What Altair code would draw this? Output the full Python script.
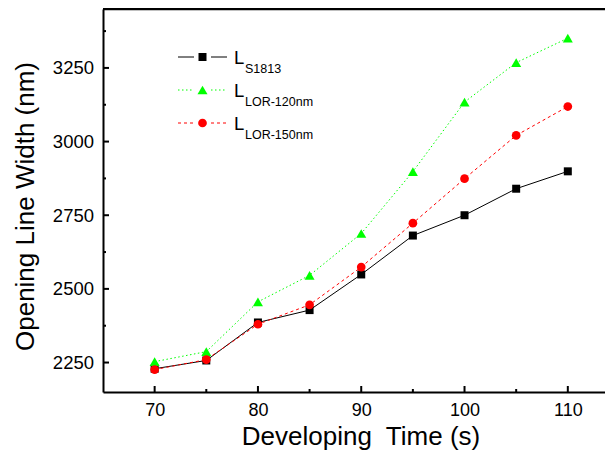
import altair as alt
import pandas as pd

# ---- data ----
times = [70, 75, 80, 85, 90, 95, 100, 105, 110]
s1813 = [2229, 2257, 2386, 2428, 2549, 2681, 2750, 2840, 2899]
lor120 = [2253, 2287, 2456, 2546, 2688, 2898, 3134, 3268, 3351]
lor150 = [2226, 2260, 2380, 2446, 2574, 2723, 2874, 3021, 3119]

series_names = ["S1813", "LOR-120nm", "LOR-150nm"]
series_values = [s1813, lor120, lor150]
colors = ["#000000", "#00ff00", "#ff0000"]
shapes = ["square", "triangle-up", "circle"]
sizes = [64, 100, 76]
dashes = [None, [1.5, 2.5], [3, 3]]

x_major = [70, 80, 90, 100, 110]
x_minor = [75, 85, 95, 105]
y_major = [2250, 2500, 2750, 3000, 3250]
y_minor = [2375, 2625, 2875, 3125, 3375]

W, H = 502, 383
FONT = "Liberation Sans"

xs = alt.Scale(domain=[65, 113.6], nice=False, zero=False)
ys = alt.Scale(domain=[2150, 3450], nice=False, zero=False)

x_axis = alt.Axis(values=x_major, title="Developing\u00a0 Time (s)", format="d",
                  labelFontSize=18, labelFont=FONT, labelColor="black",
                  labelPadding=9, ticks=False, tickSize=0,
                  domain=True, domainColor="black", domainWidth=2, grid=False,
                  labelFlush=False, labelOverlap=False,
                  titleFontSize=26, titleFont=FONT, titleFontWeight="normal",
                  titleColor="black", titleX=257.5, titleY=52,
                  titleBaseline="alphabetic", titleAlign="center")
y_axis = alt.Axis(values=y_major, title="Opening Line Width (nm)", format="d",
                  labelFontSize=18.5, labelFont=FONT, labelColor="black",
                  labelPadding=9.5, ticks=False, tickSize=0,
                  domain=True, domainColor="black", domainWidth=2, grid=False,
                  labelFlush=False, labelOverlap=False,
                  titleFontSize=26, titleFont=FONT, titleFontWeight="normal",
                  titleColor="black", titleX=-70, titleY=197,
                  titleBaseline="alphabetic", titleAlign="center")

layers = []
for i, (name, vals) in enumerate(zip(series_names, series_values)):
    df = pd.DataFrame({"t": times, "v": vals})
    line_kw = dict(color=colors[i], strokeWidth=1)
    if dashes[i]:
        line_kw["strokeDash"] = dashes[i]
    line = alt.Chart(df).mark_line(**line_kw).encode(
        x=alt.X("t:Q", scale=xs, axis=x_axis),
        y=alt.Y("v:Q", scale=ys, axis=y_axis),
    )
    pts = alt.Chart(df).mark_point(shape=shapes[i], filled=True, size=sizes[i],
                                   color=colors[i], opacity=1).encode(
        x=alt.X("t:Q", scale=xs, axis=x_axis),
        y=alt.Y("v:Q", scale=ys, axis=y_axis),
    )
    layers += [line, pts]

# inward ticks
def yticks(vals, length):
    return alt.Chart(pd.DataFrame({"v": vals})).mark_rule(color="black", strokeWidth=2).encode(
        y=alt.Y("v:Q", scale=ys, axis=y_axis), x=alt.value(0), x2=alt.value(length))

def xticks(vals, length):
    return alt.Chart(pd.DataFrame({"v": vals})).mark_rule(color="black", strokeWidth=2).encode(
        x=alt.X("v:Q", scale=xs, axis=x_axis), y=alt.value(H), y2=alt.value(H - length))

layers += [yticks(y_major, 6), yticks(y_minor, 3), xticks(x_major, 6), xticks(x_minor, 3)]

# top frame line (right side is cut off in the reference)
layers.append(alt.Chart(pd.DataFrame({"name": ["frame"]})).mark_rule(
    color="black", strokeWidth=2.5).encode(x=alt.value(0), x2=alt.value(W), y=alt.value(0)))

# legend
row_y = [48, 81, 114]
for i, name in enumerate(series_names):
    ld = pd.DataFrame({"name": [name]})
    y0 = row_y[i]
    rk = dict(color=colors[i], strokeWidth=1)
    if dashes[i]:
        rk["strokeDash"] = dashes[i]
    for xa0, xa1 in [(75, 91), (108, 124)]:
        layers.append(alt.Chart(ld).mark_rule(**rk).encode(
            x=alt.value(xa0), x2=alt.value(xa1), y=alt.value(y0)))
    layers.append(alt.Chart(ld).mark_point(shape=shapes[i], filled=True, size=sizes[i],
                                           color=colors[i], opacity=1).encode(
        x=alt.value(99.5), y=alt.value(y0)))
    layers.append(alt.Chart(ld).mark_text(text="L", fontSize=18.5, font=FONT, align="left",
                                          baseline="alphabetic", color="black").encode(
        x=alt.value(131), y=alt.value(y0 + 6.5)))
    layers.append(alt.Chart(ld).mark_text(fontSize=12.5, font=FONT, align="left",
                                          baseline="alphabetic", color="black").encode(
        text="name:N", x=alt.value(142), y=alt.value(y0 + 15.5)))

chart = alt.layer(*layers).properties(
    width=W, height=H,
    autosize=alt.AutoSizeParams(type="none"),
    padding={"left": 95, "top": 1, "right": 0, "bottom": 58},
    background="white",
).configure_view(stroke=None)

chart.save("out.html", embed_options={"renderer": "svg", "actions": False})
